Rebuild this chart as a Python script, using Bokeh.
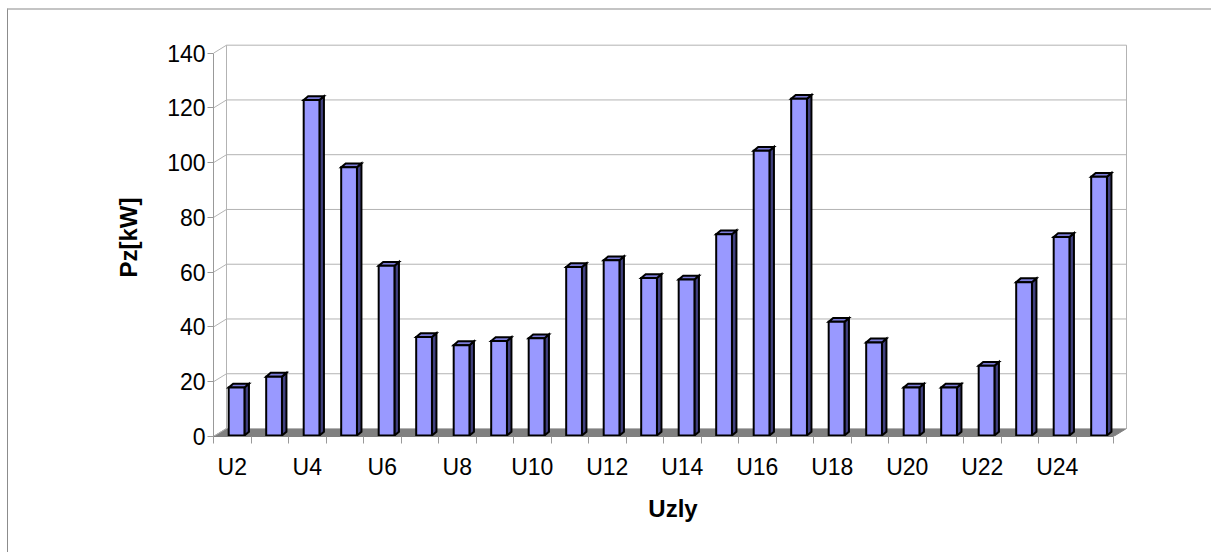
from bokeh.plotting import figure
from bokeh.models import Range1d, FixedTicker
from bokeh.embed import file_html
from bokeh.resources import INLINE

# ---- data ----
categories = ["U2", "U3", "U4", "U5", "U6", "U7", "U8", "U9", "U10", "U11", "U12", "U13",
              "U14", "U15", "U16", "U17", "U18", "U19", "U20", "U21", "U22", "U23", "U24", "U25"]
values = [17.5, 21.5, 122.5, 98, 62, 36, 33, 34.5, 35.5, 61.5, 64, 57.5,
          57, 73.5, 104, 123, 41.5, 34, 17.5, 17.5, 25.5, 56, 72.5, 94.5]
y_ticks = [0, 20, 40, 60, 80, 100, 120, 140]
x_labels = categories[::2]

# ---- layout / style ----
W, H = 1204, 544
MB_L, MB_R, MB_T, MB_B = 205, 80, 28, 118
PX_X = 37.5      # px per category
PX_Y = 2.738     # px per unit
frame_w = W - MB_L - MB_R
frame_h = H - MB_T - MB_B
n = len(categories)
ymax = y_ticks[-1]

# 3D depth offsets (data units)
dxw = 13 / PX_X
dyw = 8 / PX_Y
bdx = 4.5 / PX_X
bdy = 3.8 / PX_Y
bar_base = 1 / PX_Y
face_l, face_r = 0.405, 0.825

FONT = "Liberation Sans"
GRID = "#b3b3b3"

p = figure(width=W, height=H, output_backend="svg", toolbar_location=None,
           x_range=Range1d(0, frame_w / PX_X), y_range=Range1d(0, frame_h / PX_Y),
           min_border_left=MB_L, min_border_right=MB_R, min_border_top=MB_T,
           min_border_bottom=MB_B)
p.outline_line_color = None
p.xgrid.visible = False
p.ygrid.visible = False
p.background_fill_color = "white"
p.border_fill_color = "white"
p.styles = {"margin-top": "8px", "margin-left": "7px",
            "border-top": "2px solid #c4c4c4", "border-left": "1px solid #8c8c8c"}

# floor
p.patch([0, n, n + dxw, dxw], [0, 0, dyw, dyw], fill_color="#808080", line_color="#808080")

# back wall gridlines
p.segment(x0=[dxw] * len(y_ticks), y0=[t + dyw for t in y_ticks],
          x1=[n + dxw] * len(y_ticks), y1=[t + dyw for t in y_ticks],
          line_color=GRID, line_width=1)
# left wall diagonals
p.segment(x0=[0] * len(y_ticks), y0=y_ticks, x1=[dxw] * len(y_ticks),
          y1=[t + dyw for t in y_ticks], line_color=GRID, line_width=1)
# wall edges
p.segment(x0=[dxw, n + dxw], y0=[dyw, dyw], x1=[dxw, n + dxw], y1=[ymax + dyw, ymax + dyw],
          line_color=GRID, line_width=1)

# bars
front_xs, front_ys, side_xs, side_ys, top_xs, top_ys = [], [], [], [], [], []
for i, v in enumerate(values):
    x0, x1 = i + face_l, i + face_r
    y0, y1 = bar_base, bar_base + v
    front_xs.append([x0, x1, x1, x0])
    front_ys.append([y0, y0, y1, y1])
    side_xs.append([x1, x1 + bdx, x1 + bdx, x1])
    side_ys.append([y0, y0 + bdy, y1 + bdy, y1])
    top_xs.append([x0, x1, x1 + bdx, x0 + bdx])
    top_ys.append([y1, y1, y1 + bdy, y1 + bdy])

p.patches(side_xs, side_ys, fill_color="#40407f", line_color="black", line_width=2,
          line_join="miter")
p.patches(top_xs, top_ys, fill_color="#7b7bd9", line_color="black", line_width=2,
          line_join="miter")
p.patches(front_xs, front_ys, fill_color="#9999ff", line_color="black", line_width=2,
          line_join="miter")

# y axis
ya = p.yaxis[0]
ya.ticker = FixedTicker(ticks=y_ticks)
ya.bounds = (0, ymax)
ya.axis_line_color = "#999999"
ya.major_tick_line_color = "#999999"
ya.major_tick_out = 6
ya.major_tick_in = 0
ya.minor_tick_line_color = None
ya.major_label_text_font = FONT
ya.major_label_text_font_size = "23px"
ya.major_label_text_color = "black"
ya.major_label_standoff = 2
ya.axis_label = "Pz[kW]"
ya.axis_label_text_font = FONT
ya.axis_label_text_font_size = "24px"
ya.axis_label_text_font_style = "bold"
ya.axis_label_text_color = "black"
ya.axis_label_standoff = 22

# x axis
xa = p.xaxis[0]
major = [i + 0.5 for i in range(0, n, 2)]
xa.ticker = FixedTicker(ticks=major, minor_ticks=list(range(n + 1)))
xa.major_label_overrides = {i + 0.5: categories[i] for i in range(0, n, 2)}
xa.bounds = (0, n)
xa.axis_line_color = "#808080"
xa.major_tick_line_color = None
xa.major_tick_out = 0
xa.major_tick_in = 0
xa.minor_tick_line_color = "#999999"
xa.minor_tick_out = 7
xa.minor_tick_in = 0
xa.major_label_text_font = FONT
xa.major_label_text_font_size = "23px"
xa.major_label_text_color = "black"
xa.major_label_standoff = 10
xa.axis_label = "Uzly"
xa.axis_label_text_font = FONT
xa.axis_label_text_font_size = "24px"
xa.axis_label_text_font_style = "bold"
xa.axis_label_text_color = "black"
xa.axis_label_standoff = 12

open("out.html", "w").write(file_html(p, INLINE))
